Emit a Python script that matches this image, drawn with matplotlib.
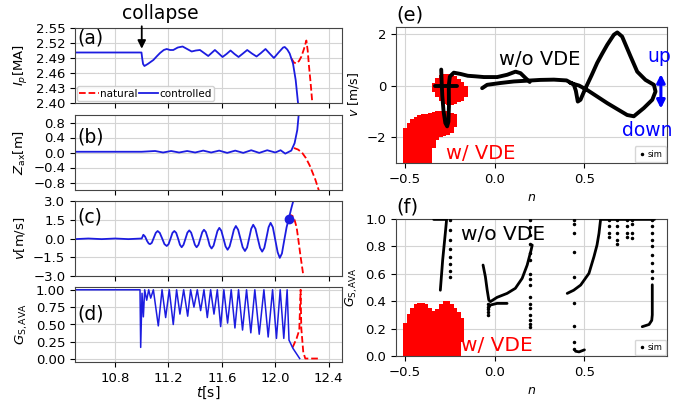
import matplotlib.pyplot as plt
from matplotlib.ticker import FormatStrFormatter
from matplotlib.lines import Line2D

# ---- panel (a)-(d): time traces ----
ip_t_ctrl = [10.5, 10.998, 11.003, 11.010, 11.020, 11.045, 11.087, 11.115, 11.137, 11.165, 11.187, 11.212,
             11.236, 11.27, 11.306, 11.34, 11.374, 11.405, 11.436, 11.467, 11.498, 11.523, 11.548, 11.577,
             11.605, 11.635, 11.665, 11.695, 11.725, 11.758, 11.790, 11.825, 11.860, 11.893, 11.927,
             11.958, 11.990, 12.025, 12.059, 12.071, 12.090, 12.108, 12.133, 12.153, 12.171]
ip_ctrl = [2.501, 2.501, 2.490, 2.478, 2.474, 2.478, 2.486, 2.494, 2.500, 2.506, 2.508, 2.506,
           2.506, 2.511, 2.513, 2.508, 2.503, 2.505, 2.506, 2.500, 2.494, 2.500, 2.506, 2.499,
           2.492, 2.498, 2.505, 2.498, 2.492, 2.499, 2.506, 2.499, 2.493, 2.500, 2.508,
           2.499, 2.490, 2.501, 2.511, 2.512, 2.507, 2.499, 2.479, 2.446, 2.399]
ip_t_nat = [12.121, 12.14, 12.158, 12.178, 12.196, 12.215, 12.233, 12.243, 12.253, 12.265, 12.278]
ip_nat = [2.489, 2.481, 2.479, 2.484, 2.493, 2.508, 2.525, 2.505, 2.473, 2.440, 2.399]

z_t_ctrl = [10.5, 11.0, 11.1, 11.16, 11.22, 11.28, 11.34, 11.4, 11.46, 11.52, 11.58, 11.64, 11.7,
            11.76, 11.82, 11.88, 11.94, 12.0, 12.04, 12.075, 12.12, 12.145, 12.165, 12.178]
z_ctrl = [0.02, 0.02, 0.04, 0.0, 0.04, 0.0, 0.04, 0.0, 0.05, 0.0, 0.05, -0.01, 0.05,
          -0.01, 0.06, -0.01, 0.06, 0.0, 0.06, -0.03, 0.05, 0.25, 0.6, 1.1]
z_t_nat = [12.14, 12.17, 12.2, 12.23, 12.26, 12.3, 12.33]
z_nat = [0.12, 0.08, 0.0, -0.15, -0.36, -0.72, -1.05]

v_t_ctrl = [10.5, 10.6, 10.7, 10.8, 10.9, 11.0, 11.012, 11.025, 11.040, 11.052, 11.062, 11.075, 11.090,
            11.105, 11.119, 11.135, 11.153, 11.170, 11.187, 11.201, 11.216, 11.230, 11.244, 11.258,
            11.272, 11.286, 11.299, 11.313, 11.328, 11.342, 11.356, 11.370, 11.384, 11.398, 11.411,
            11.425, 11.439, 11.453, 11.466, 11.480, 11.495, 11.509, 11.523, 11.538, 11.552, 11.567,
            11.581, 11.596, 11.612, 11.628, 11.643, 11.658, 11.674, 11.690, 11.705, 11.722, 11.739,
            11.756, 11.773, 11.789, 11.804, 11.820, 11.835, 11.852, 11.869, 11.886, 11.902, 11.918,
            11.934, 11.950, 11.965, 11.982, 12.000, 12.018, 12.034, 12.050, 12.068, 12.085, 12.100,
            12.120, 12.140]
v_ctrl = [-0.05, 0.0, -0.05, 0.0, -0.05, 0.0, 0.30, 0.15, -0.20, -0.40, -0.45, -0.35, 0.05,
          0.45, 0.60, 0.45, 0.00, -0.45, -0.60, -0.45, 0.00, 0.45, 0.60, 0.45,
          0.00, -0.50, -0.70, -0.50, 0.00, 0.47, 0.65, 0.47, 0.00, -0.50, -0.70,
          -0.50, 0.00, 0.50, 0.70, 0.52, 0.00, -0.57, -0.80, -0.57, 0.00, 0.60,
          0.85, 0.62, 0.00, -0.64, -0.90, -0.64, 0.00, 0.70, 1.00, 0.70, 0.00,
          -0.70, -1.00, -0.72, 0.00, 0.78, 1.10, 0.78, 0.00, -0.75, -1.05, -0.75,
          0.05, 0.90, 1.25, 0.90, -0.10, -1.10, -1.55, -1.20, -0.10, 0.90, 1.53,
          2.40, 3.20]
v_t_nat = [12.105, 12.116, 12.13, 12.145, 12.16, 12.17, 12.19, 12.21, 12.22]
v_nat = [1.6, 1.87, 1.8, 1.47, 0.9, 0.14, -1.46, -2.93, -3.3]
dot_t, dot_v = 12.10, 1.53

g_t_ctrl = [10.5, 10.987, 10.992, 11.002, 11.012, 11.022, 11.037, 11.052, 11.067, 11.087,
            11.124, 11.152, 11.179, 11.206, 11.236, 11.261, 11.286, 11.314, 11.344, 11.366,
            11.391, 11.416, 11.441, 11.466, 11.491, 11.516, 11.541, 11.566, 11.591, 11.615,
            11.643, 11.670, 11.698, 11.725, 11.755, 11.785, 11.817, 11.847, 11.880, 11.915,
            11.947, 11.980, 12.009, 12.037, 12.064, 12.089, 12.103, 12.133, 12.183]
g_ctrl = [1.0, 1.0, 0.17, 0.95, 0.61, 1.0, 0.85, 1.0, 0.88, 1.0,
          0.48, 1.0, 0.60, 1.0, 0.50, 1.0, 0.65, 1.0, 0.62, 1.0,
          0.75, 1.0, 0.70, 1.0, 0.60, 1.0, 0.65, 1.0, 0.47, 1.0,
          0.52, 1.0, 0.45, 1.0, 0.42, 1.0, 0.38, 1.0, 0.36, 1.0,
          0.32, 1.0, 0.30, 1.0, 0.30, 1.0, 0.275, 0.155, 0.01]
g_t_nat = [12.13, 12.16, 12.18, 12.19, 12.195, 12.21, 12.225, 12.33]
g_nat = [0.17, 0.30, 0.42, 1.0, 0.45, 0.10, 0.01, 0.01]

# ---- panel (e): v vs n ----
e_loop_n = [-0.298, -0.296, -0.292, -0.285, -0.275, -0.265, -0.258, -0.255, -0.256, -0.250, -0.228,
            -0.190, -0.150, -0.110, -0.060, 0.014, 0.070, 0.116, 0.144, 0.172, 0.195]
e_loop_v = [0.62, 0.20, -0.40, -1.00, -1.45, -1.58, -1.40, -0.80, 0.00, 0.35, 0.50,
            0.45, 0.38, 0.36, 0.33, 0.33, 0.42, 0.54, 0.48, 0.29, 0.14]
e_bar_n = [-0.335, -0.210]
e_bar_v = [0.0, 0.0]
e_big_n = [-0.070, -0.042, 0.032, 0.107, 0.181, 0.255, 0.330, 0.400, 0.440, 0.452, 0.463, 0.478, 0.506,
           0.540, 0.571, 0.600, 0.627, 0.664, 0.683, 0.710, 0.757, 0.794, 0.840, 0.887, 0.896, 0.878,
           0.831, 0.775, 0.738, 0.680, 0.627, 0.570, 0.515, 0.470, 0.422]
e_big_v = [-0.10, 0.03, 0.10, 0.16, 0.19, 0.22, 0.23, 0.20, 0.05, -0.20, -0.62, -0.55, -0.10,
           0.40, 0.88, 1.25, 1.58, 1.97, 2.06, 1.90, 1.13, 0.54, 0.22, 0.03, -0.23, -0.55,
           -0.87, -1.19, -1.14, -0.90, -0.68, -0.42, -0.17, 0.00, 0.10]

# red VDE regions, columns of width 0.02 in n
e_red1_n = [-0.50, -0.48, -0.46, -0.44, -0.42, -0.40, -0.38, -0.36, -0.34, -0.32, -0.30, -0.28, -0.26, -0.24, -0.22]
e_red1_lo = [-3.0, -3.0, -3.0, -3.0, -3.0, -3.0, -3.0, -3.0, -2.4, -2.1, -2.0, -1.95, -1.9, -1.85, -1.6]
e_red1_hi = [-1.65, -1.45, -1.3, -1.2, -1.15, -1.12, -1.1, -1.06, -1.03, -1.0, -1.0, -0.98, -1.0, -1.05, -1.12]
e_red2_n = [-0.34, -0.32, -0.30, -0.28, -0.26, -0.24, -0.22, -0.20, -0.18, -0.16]
e_red2_lo = [-0.25, -0.45, -0.6, -0.7, -0.75, -0.75, -0.7, -0.65, -0.6, -0.45]
e_red2_hi = [0.1, 0.3, 0.4, 0.43, 0.43, 0.42, 0.38, 0.25, 0.15, 0.0]

# ---- panel (f): G vs n ----
f_a_n = [-0.340, -0.268, -0.275, -0.290, -0.303]
f_a_g = [0.997, 0.997, 0.90, 0.70, 0.48]
f_b_n = [-0.065, -0.052, -0.042, -0.033, -0.024, 0.013, 0.069, 0.115, 0.153, 0.181, 0.203, 0.209]
f_b_g = [0.664, 0.579, 0.482, 0.409, 0.397, 0.428, 0.457, 0.494, 0.567, 0.664, 0.774, 0.81]
f_c_n = [-0.035, -0.024, 0.013, 0.069]
f_c_g = [0.35, 0.372, 0.384, 0.384]
f_d_n = [0.45, 0.47, 0.50]
f_d_g = [0.035, 0.03, 0.045]
f_e_n = [0.404, 0.440, 0.479, 0.525, 0.553, 0.570, 0.581, 0.590, 0.890]
f_e_g = [0.457, 0.48, 0.518, 0.603, 0.725, 0.81, 0.895, 0.997, 0.997]
f_f_n = [0.878, 0.878, 0.878, 0.875, 0.860, 0.822]
f_f_g = [0.52, 0.40, 0.30, 0.26, 0.23, 0.214]
f_dot_n = ([-0.25] * 8 + [-0.04] * 5 + [0.198] * 16 + [0.441] * 9 + [0.636] * 4 + [0.683] * 5
           + [0.739] * 4 + [0.766] * 4 + [0.878] * 9)
f_dot_g = ([0.58, 0.62, 0.67, 0.72, 0.78, 0.85, 0.92, 0.99]
           + [0.30, 0.32, 0.34, 0.36, 0.38]
           + [0.21, 0.23, 0.26, 0.30, 0.35, 0.38, 0.43, 0.52, 0.56, 0.60, 0.70, 0.75, 0.82, 0.88, 0.94, 0.99]
           + [0.99, 0.96, 0.90, 0.76, 0.58, 0.39, 0.22, 0.10, 0.05]
           + [0.99, 0.95, 0.90, 0.87]
           + [0.99, 0.95, 0.90, 0.85, 0.82]
           + [0.99, 0.95, 0.90, 0.87]
           + [0.99, 0.96, 0.90, 0.86]
           + [0.99, 0.95, 0.90, 0.85, 0.80, 0.74, 0.68, 0.62, 0.57])
f_red_n = [-0.50, -0.48, -0.46, -0.44, -0.42, -0.40, -0.38, -0.36, -0.34, -0.32, -0.30, -0.28, -0.26, -0.24, -0.22, -0.20, -0.18]
f_red_lo = [0.0] * 15 + [0.0, 0.1]
f_red_hi = [0.24, 0.31, 0.35, 0.38, 0.39, 0.39, 0.38, 0.35, 0.33, 0.34, 0.38, 0.40, 0.40, 0.38, 0.35, 0.32, 0.28]

plt.rcParams['font.family'] = 'DejaVu Sans'
plt.rcParams['xtick.labelsize'] = 9.5
plt.rcParams['ytick.labelsize'] = 9.5
plt.rcParams['axes.linewidth'] = 0.8
plt.rcParams['axes.edgecolor'] = '#444444'

fig = plt.figure(figsize=(6.87, 4.01), dpi=100)
L, W = 75 / 687, 267 / 687
axa = fig.add_axes([L, 1 - 103 / 401, W, 75 / 401])
axb = fig.add_axes([L, 1 - 190 / 401, W, 75 / 401], sharex=axa)
axc = fig.add_axes([L, 1 - 276 / 401, W, 75 / 401], sharex=axa)
axd = fig.add_axes([L, 1 - 362 / 401, W, 75 / 401], sharex=axa)
axe = fig.add_axes([396 / 687, 1 - 163 / 401, 271 / 687, 136 / 401])
axf = fig.add_axes([396 / 687, 1 - 356 / 401, 271 / 687, 137 / 401])

blue = '#1c1ce0'
for ax in [axa, axb, axc, axd, axe, axf]:
    ax.grid(True, color='#d4d4d4', linewidth=0.8)
    ax.set_axisbelow(True)

# (a)
axa.plot(ip_t_nat, ip_nat, '--', color='red', lw=1.3, label='natural')
axa.plot(ip_t_ctrl, ip_ctrl, '-', color=blue, lw=1.3, label='controlled')
axa.set_ylim(2.40, 2.55)
axa.set_yticks([2.40, 2.43, 2.46, 2.49, 2.52, 2.55])
axa.yaxis.set_major_formatter(FormatStrFormatter('%.2f'))
axa.set_ylabel('$I_p$[MA]', fontsize=9.5)
axa.legend(loc='lower left', ncol=2, fontsize=7.5, handlelength=1.9, handletextpad=0.1,
           columnspacing=0.1, borderpad=0.25, borderaxespad=0.15, framealpha=0.9)
axa.annotate('', xy=(11.0, 2.503), xytext=(11.0, 2.559), annotation_clip=False,
             arrowprops=dict(arrowstyle='-|>', color='black', lw=1.3, mutation_scale=12))
axa.text(11.14, 2.578, 'collapse', fontsize=13.5, ha='center', va='center', clip_on=False)

# (b)
axb.plot(z_t_nat, z_nat, '--', color='red', lw=1.3)
axb.plot(z_t_ctrl, z_ctrl, '-', color=blue, lw=1.3)
axb.set_ylim(-1.0, 1.0)
axb.set_yticks([-0.8, -0.4, 0.0, 0.4, 0.8])
axb.set_ylabel('$Z_{\\rm ax}$[m]', fontsize=9.5)

# (c)
axc.plot(v_t_nat, v_nat, '--', color='red', lw=1.3)
axc.plot(v_t_ctrl, v_ctrl, '-', color=blue, lw=1.3)
axc.plot([dot_t], [dot_v], 'o', color=blue, ms=6)
axc.set_ylim(-3.0, 3.0)
axc.set_yticks([-3.0, -1.5, 0.0, 1.5, 3.0])
axc.set_ylabel('$v$[m/s]', fontsize=9.5)

# (d)
axd.plot(g_t_nat, g_nat, '--', color='red', lw=1.3)
axd.plot(g_t_ctrl, g_ctrl, '-', color=blue, lw=1.1)
axd.set_ylim(-0.04, 1.04)
axd.set_yticks([0.0, 0.25, 0.5, 0.75, 1.0])
axd.yaxis.set_major_formatter(FormatStrFormatter('%.2f'))
axd.set_ylabel('$G_{\\rm S,AVA}$', fontsize=9.5)
axd.set_xlabel('$t$[s]', fontsize=10, labelpad=0)
axd.set_xlim(10.5, 12.5)
axd.set_xticks([10.8, 11.2, 11.6, 12.0, 12.4])
for ax in [axa, axb, axc]:
    ax.tick_params(labelbottom=False)

for ax, lab, yy in [(axa, '(a)', 1.0), (axb, '(b)', 0.83), (axc, '(c)', 0.91), (axd, '(d)', 0.76)]:
    ax.text(0.01, yy, lab, transform=ax.transAxes, fontsize=13.5, va='top', ha='left')

# (e)
hi1 = [h - l for h, l in zip(e_red1_hi, e_red1_lo)]
hi2 = [h - l for h, l in zip(e_red2_hi, e_red2_lo)]
axe.bar(e_red1_n, hi1, bottom=e_red1_lo, width=0.021, color='red', linewidth=0, zorder=2)
axe.bar(e_red2_n, hi2, bottom=e_red2_lo, width=0.021, color='red', linewidth=0, zorder=2)
for n, v in [(e_loop_n, e_loop_v), (e_bar_n, e_bar_v), (e_big_n, e_big_v)]:
    axe.plot(n, v, '-', color='black', lw=2.8, solid_capstyle='round', solid_joinstyle='round', zorder=3)
axe.set_xlim(-0.55, 0.96)
axe.set_ylim(-3.0, 2.27)
axe.set_xticks([-0.5, 0.0, 0.5])
axe.set_yticks([-2, 0, 2])
axe.set_xlabel('$n$', fontsize=9)
axe.set_ylabel('$v$ [m/s]', fontsize=9)
axe.text(0.25, 1.0, 'w/o VDE', fontsize=14, ha='center', va='center', zorder=4)
axe.text(-0.08, -2.62, 'w/ VDE', fontsize=14, color='red', ha='center', va='center', zorder=4)
axe.text(0.918, 1.13, 'up', fontsize=13.5, color='blue', ha='center', va='center', clip_on=False)
axe.text(0.85, -1.75, 'down', fontsize=13.5, color='blue', ha='center', va='center', clip_on=False)
axe.annotate('', xy=(0.926, 0.55), xytext=(0.926, -1.0), annotation_clip=False,
             arrowprops=dict(arrowstyle='<|-|>', color='blue', lw=2.2, mutation_scale=12))
axe.text(0.0, 1.02, '(e)', transform=axe.transAxes, fontsize=14, va='bottom', ha='left')

# (f)
hif = [h - l for h, l in zip(f_red_hi, f_red_lo)]
axf.bar(f_red_n, hif, bottom=f_red_lo, width=0.021, color='red', linewidth=0, zorder=2)
for n, g in [(f_a_n, f_a_g), (f_b_n, f_b_g), (f_c_n, f_c_g), (f_d_n, f_d_g), (f_e_n, f_e_g), (f_f_n, f_f_g)]:
    axf.plot(n, g, '-', color='black', lw=2.0, solid_capstyle='round', zorder=3)
axf.plot(f_dot_n, f_dot_g, '.', color='black', ms=3, zorder=3)
axf.set_xlim(-0.55, 0.96)
axf.set_ylim(0.0, 1.0)
axf.set_xticks([-0.5, 0.0, 0.5])
axf.set_yticks([0.0, 0.2, 0.4, 0.6, 0.8, 1.0])
axf.set_xlabel('$n$', fontsize=9)
axf.set_ylabel('$G_{\\rm S,AVA}$', fontsize=9)
axf.text(0.045, 0.887, 'w/o VDE', fontsize=14.5, ha='center', va='center', zorder=4)
axf.text(0.01, 0.08, 'w/ VDE', fontsize=14.5, color='red', ha='center', va='center', zorder=4)
axf.text(0.0, 1.02, '(f)', transform=axf.transAxes, fontsize=14, va='bottom', ha='left')

sim_handle = [Line2D([], [], marker='.', ls='none', color='black', ms=3)]
for ax in [axe, axf]:
    ax.legend(sim_handle, ['sim'], loc='lower right', fontsize=6, handlelength=1.0,
              handletextpad=0.2, borderpad=0.4, borderaxespad=0.1)

fig.savefig('out.png', dpi=100)
